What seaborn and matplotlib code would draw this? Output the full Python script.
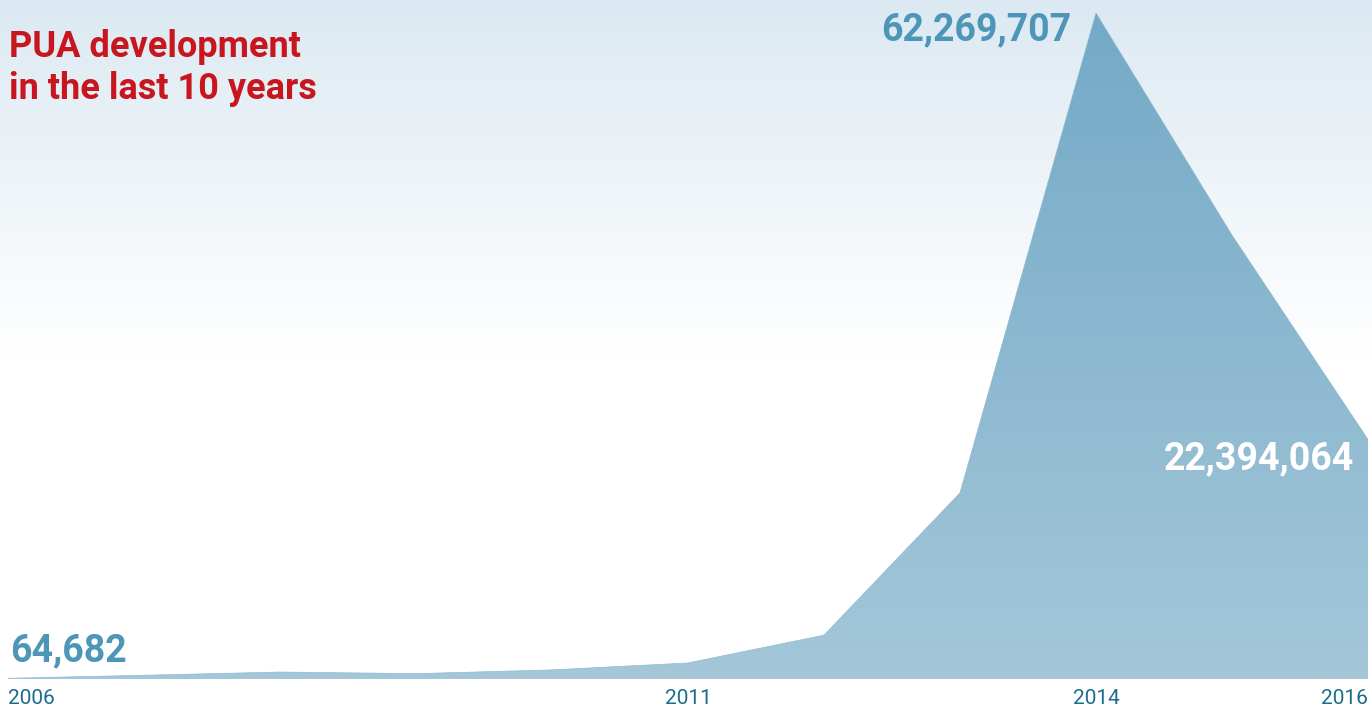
import numpy as np
import pandas as pd
import matplotlib.pyplot as plt
import seaborn as sns
from matplotlib.colors import LinearSegmentedColormap

# PUA counts per year
years = [2006, 2007, 2008, 2009, 2010, 2011, 2012, 2013, 2014, 2015, 2016]
counts = [64682, 350000, 650000, 500000, 850000, 1500000, 4100000, 17400000,
          62269707, 41500000, 22394064]
tick_years = [2006, 2011, 2014, 2016]

df = pd.DataFrame({'year': years, 'count': counts})

sns.set_theme(style='white')
plt.rcParams['font.family'] = ['Roboto', 'DejaVu Sans']

fig = plt.figure(figsize=(13.72, 7.09), dpi=100)

# background gradient (light blue at top fading to white)
grad = np.linspace(0, 1, 256).reshape(-1, 1)
bg = LinearSegmentedColormap.from_list('bg', ['#ffffff', '#ffffff', '#dce9f2'])
bg_ax = fig.add_axes([0, 0, 1, 1], zorder=-1)
bg_ax.imshow(grad, aspect='auto', cmap=bg, origin='lower', extent=[0, 1, 0, 1])
bg_ax.axis('off')

ax = fig.add_axes([0, 30 / 709, 1, 679 / 709])
ax.patch.set_alpha(0)

xmin, xmax = 2006 - 8 / 136, 2016 + 4 / 136
ymax = 62269707 * 679 / 666

# area with vertical gradient, clipped to the data polygon
sns.lineplot(data=df, x='year', y='count', ax=ax, color='#8dbbd3', linewidth=0.5)
poly = ax.fill_between(df['year'], df['count'], 0, color='none', linewidth=0)
area = LinearSegmentedColormap.from_list('area', ['#a4c7d9', '#73a9c6'])
img = ax.imshow(grad, aspect='auto', cmap=area, origin='lower',
                extent=[xmin, xmax, 0, ymax], zorder=1)
img.set_clip_path(poly.get_paths()[0], transform=ax.transData)
ax.set_xlim(xmin, xmax)
ax.set_ylim(0, ymax)

# axes cosmetics
for s in ax.spines.values():
    s.set_visible(False)
ax.set_yticks([])
ax.set_xlabel('')
ax.set_ylabel('')
ax.set_xticks(tick_years)
ax.set_xticklabels([str(y) for y in tick_years], color='#1c6c8c', fontsize=15,
                   family=['DejaVu Sans Condensed', 'Roboto'])
ax.tick_params(axis='x', length=0, pad=7)
labels = ax.get_xticklabels()
labels[0].set_ha('left')
labels[-1].set_ha('right')

# value labels
ax.text(2006 + 2 / 136, 64682 + 0.8e6, '64,682', color='#4d96b7', fontsize=27,
        fontweight='bold', ha='left', va='bottom', zorder=3)
ax.text(2013.82, 62269707 - 1.6e6, '62,269,707', color='#4d96b7', fontsize=27,
        fontweight='bold', ha='right', va='center', zorder=3)
ax.text(2015.9, 20.6e6, '22,394,064', color='white', fontsize=27,
        fontweight='bold', ha='right', va='center', zorder=3)

# title
fig.text(9 / 1372, 1 - 29 / 709, 'PUA development\nin the last 10 years',
         color='#c8161e', fontsize=26, fontweight='bold', ha='left', va='top',
         linespacing=1.2)

fig.savefig('out.png', dpi=100)
